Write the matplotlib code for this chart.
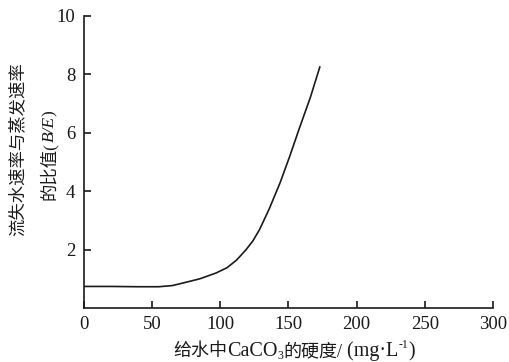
import numpy as np
import matplotlib
matplotlib.use('Agg')
import matplotlib.pyplot as plt

plt.rcParams['font.family'] = ['Liberation Serif', 'Noto Sans CJK SC', 'DejaVu Serif']

# hardness of feed water (mg/L) vs ratio B/E
hardness = [0, 20, 40, 55, 65, 73, 85, 97, 105, 112, 119, 124, 129, 136, 144, 151, 158, 166, 173]
ratio = [0.74, 0.74, 0.73, 0.73, 0.77, 0.86, 1.0, 1.2, 1.38, 1.64, 2.0, 2.3, 2.7, 3.4, 4.3, 5.2, 6.15, 7.2, 8.25]

xticks = [0, 50, 100, 150, 200, 250, 300]
yticks = [2, 4, 6, 8, 10]

fig = plt.figure(figsize=(5.1, 3.62), dpi=100)
ax = fig.add_axes([0.164, 0.149, 0.803, 0.807])

ax.plot(hardness, ratio, color='#1a1a1a', lw=1.2)

ax.set_xlim(0, 300)
ax.set_ylim(0, 10)
ax.set_xticks(xticks)
ax.set_yticks(yticks)
ax.spines['top'].set_visible(False)
ax.spines['right'].set_visible(False)
for s in ['left', 'bottom']:
    ax.spines[s].set_linewidth(1.2)
    ax.spines[s].set_color('#1a1a1a')
ax.tick_params(direction='in', length=5, width=1.2, labelsize=13.5, colors='#1a1a1a', pad=6)

renderer = fig.canvas.get_renderer()
col = '#1a1a1a'


def rich_text(pieces, x0, y0, rotated=False):
    # pieces: (text, size, style, shift in points), laid out left to right
    # (bottom to top when rotated); x0, y0 in pixels, centre of the run on the baseline
    arts = []
    for txt, size, style, shift in pieces:
        t = fig.text(0, 0, txt, fontsize=size, style=style, color=col,
                     rotation=90 if rotated else 0,
                     ha='left', va='baseline', rotation_mode='anchor',
                     transform=fig.dpi_scale_trans)
        arts.append((t, shift))
    lens = []
    for t, _ in arts:
        bb = t.get_window_extent(renderer)
        lens.append(bb.height if rotated else bb.width)
    pos = -sum(lens) / 2
    for (t, shift), ln in zip(arts, lens):
        sh = shift * fig.dpi / 72
        if rotated:
            t.set_position(((x0 - sh) / fig.dpi, (y0 + pos) / fig.dpi))
        else:
            t.set_position(((x0 + pos) / fig.dpi, (y0 + sh) / fig.dpi))
        pos += ln


H = 362
# x label
rich_text([('给水中', 13, 'normal', 0),
           ('CaCO', 14.5, 'normal', 0),
           ('3', 8.5, 'normal', -2),
           ('的硬度/', 13, 'normal', 0),
           (' (mg·L', 14.5, 'normal', 0),
           ('-1', 8.5, 'normal', 6),
           (')', 14.5, 'normal', 0)],
          294, H - 356)

# y label, two rotated lines
rich_text([('流失水速率与蒸发速率', 12.5, 'normal', 0)], 23, H - 149, rotated=True)
rich_text([('的比值(', 12.5, 'normal', 0),
           ('B/E', 12.5, 'italic', 0),
           (')', 12.5, 'normal', 0)], 54, H - 155, rotated=True)

fig.savefig('out.png', dpi=100)
